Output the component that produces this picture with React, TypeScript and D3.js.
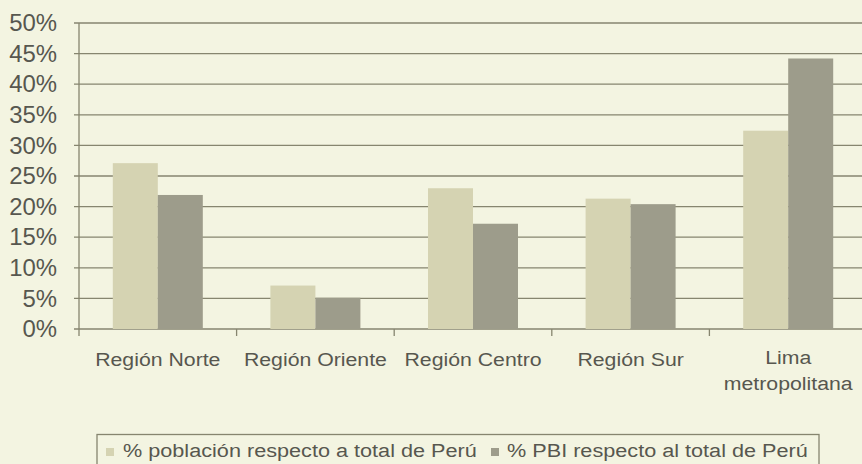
import React from "react";
import * as d3 from "d3";

const categoryLines: string[][] = [
  ["Región Norte"],
  ["Región Oriente"],
  ["Región Centro"],
  ["Región Sur"],
  ["Lima", "metropolitana"],
];
const categories = ["Región Norte", "Región Oriente", "Región Centro", "Región Sur", "Lima metropolitana"];
const poblacion = [27.1, 7.1, 23.0, 21.3, 32.4];
const pbi = [21.9, 5.1, 17.2, 20.4, 44.2];
const seriesNames = ["% población respecto a total de Perú", "% PBI respecto al total de Perú"];
const yTicks = [0, 5, 10, 15, 20, 25, 30, 35, 40, 45, 50];

const W = 862;
const H = 464;
const BG = "#f3f4e1";
const LIGHT = "#d5d3b2";
const DARK = "#9d9c8b";
const GRID = "#86856f";
const TEXT = "#57574f";
const FONT = "'Liberation Sans', Arial, sans-serif";

function SText({ x, y, sx, size, anchor, children }: any) {
  return (
    <g transform={`translate(${x},${y}) scale(${sx},1)`}>
      <text textAnchor={anchor} fontSize={size} fontFamily={FONT} fill={TEXT}>
        {children}
      </text>
    </g>
  );
}

export default function App() {
  const x = d3.scaleBand<string>().domain(categories).range([79, 867]).padding(0);
  const y = d3.scaleLinear().domain([0, 50]).range([329, 23]);
  const groupW = 90;
  const inner = d3.scaleBand<number>().domain([0, 1]).range([-groupW / 2, groupW / 2]).padding(0);
  const series = [poblacion, pbi];
  const colors = [LIGHT, DARK];
  const bw = x.bandwidth();

  return (
    <svg width={W} height={H} style={{ position: "fixed", left: 0, top: 0 }}>
      <rect x={0} y={0} width={W} height={H} fill={BG} />
      {/* gridlines */}
      {yTicks.map((t) => (
        <line key={t} x1={74} x2={W} y1={y(t)} y2={y(t)} stroke={GRID} strokeWidth={1.3} />
      ))}
      {/* y axis */}
      <line x1={79} x2={79} y1={y(50)} y2={336} stroke={GRID} strokeWidth={1.3} />
      {/* x ticks */}
      {categories.slice(1).map((c) => (
        <line key={c} x1={x(c)!} x2={x(c)!} y1={y(0)} y2={336} stroke={GRID} strokeWidth={1.3} />
      ))}
      {/* bars */}
      {categories.map((c, i) => {
        const cx = x(c)! + bw / 2;
        return series.map((s, j) => (
          <rect
            key={c + j}
            x={cx + inner(j)!}
            y={y(s[i])}
            width={inner.bandwidth()}
            height={y(0) - y(s[i])}
            fill={colors[j]}
          />
        ));
      })}
      {/* y labels */}
      {yTicks.map((t) => (
        <SText key={t} x={57} y={y(t) + 8.2} sx={1.04} size={23} anchor="end">
          {t + "%"}
        </SText>
      ))}
      {/* x labels */}
      {categories.map((c, i) => {
        const cx = x(c)! + bw / 2;
        const lines = categoryLines[i];
        const base = lines.length > 1 ? 364 : 366;
        return lines.map((l, k) => (
          <SText key={c + k} x={cx} y={base + k * 25.5} sx={1.12} size={19} anchor="middle">
            {l}
          </SText>
        ));
      })}
      {/* legend */}
      <rect x={97} y={434.5} width={722} height={40} fill="none" stroke={GRID} strokeWidth={1.3} />
      <rect x={106} y={448} width={8} height={8} fill={LIGHT} />
      <SText x={123} y={457} sx={1.14} size={19} anchor="start">
        {seriesNames[0]}
      </SText>
      <rect x={491} y={448} width={8} height={8} fill={DARK} />
      <SText x={507} y={457} sx={1.14} size={19} anchor="start">
        {seriesNames[1]}
      </SText>
    </svg>
  );
}
